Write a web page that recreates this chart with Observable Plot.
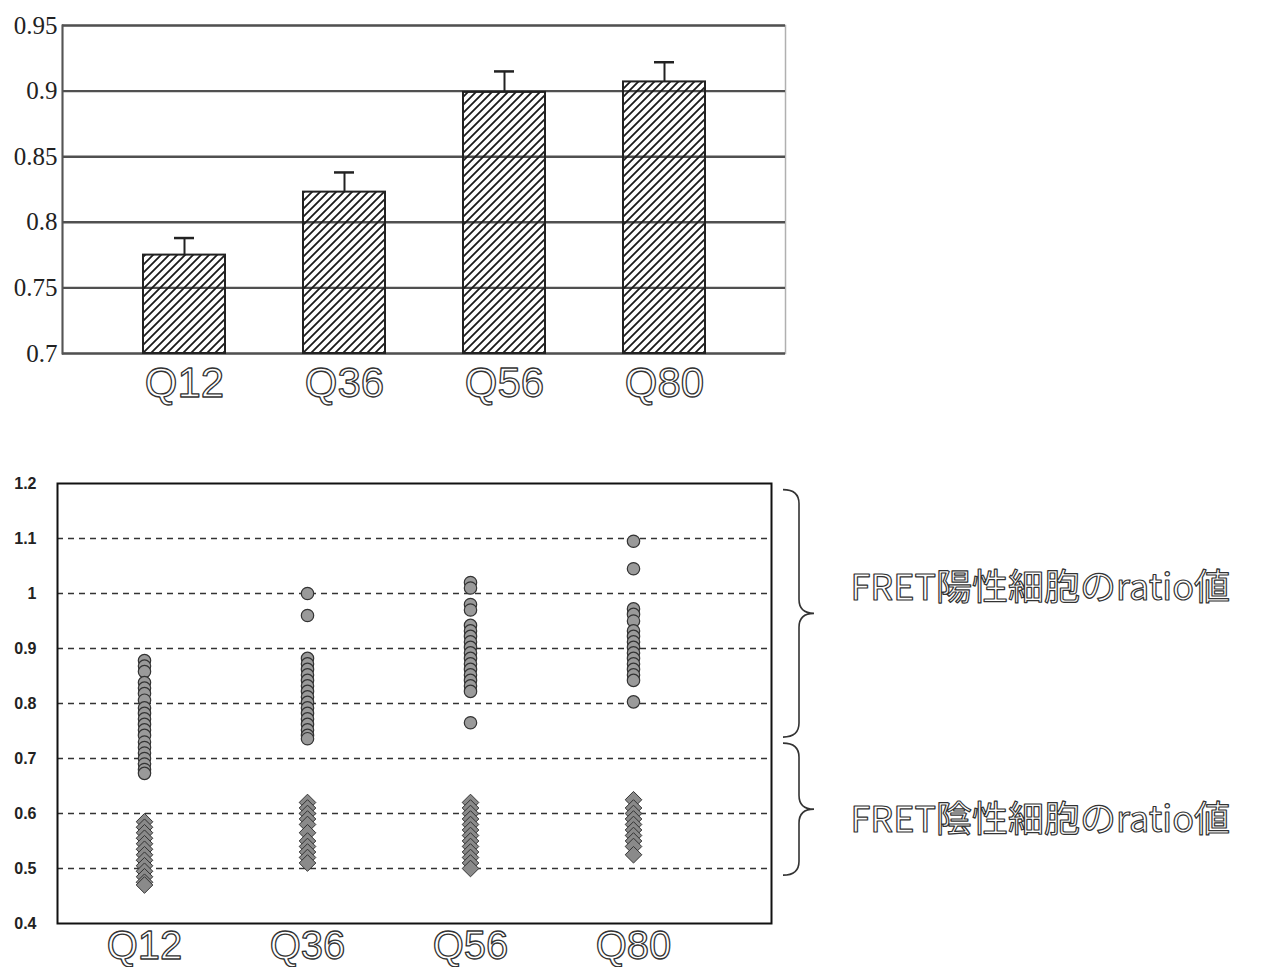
<!DOCTYPE html>
<html><head><meta charset="utf-8">
<script src="https://cdn.jsdelivr.net/npm/d3@7"></script>
<script src="https://cdn.jsdelivr.net/npm/@observablehq/plot@0.6"></script>
<style>
html,body{margin:0;padding:0;background:#fff;}
#wrap{position:relative;width:1261px;height:967px;overflow:hidden;background:#fff;}
#top{position:absolute;left:0;top:0;}
#bottom{position:absolute;left:0;top:470px;}
svg{overflow:visible;}
</style></head><body>
<svg width="0" height="0" style="position:absolute;left:0;top:0">
  <defs>
    <pattern id="hatch" patternUnits="userSpaceOnUse" width="8" height="8">
      <path d="M-2,2 L2,-2 M0,8 L8,0 M6,10 L10,6" stroke="#1a1a1a" stroke-width="1.8"/>
    </pattern>
  </defs>
</svg>
<div id="wrap"><div id="top"></div><div id="bottom"></div></div>
<script>
// ---------- data ----------
const categories = ["Q12", "Q36", "Q56", "Q80"];
const barMeans  = [0.775, 0.823, 0.899, 0.907];
const barErrors = [0.013, 0.015, 0.016, 0.015];
const topTicks = [0.7, 0.75, 0.8, 0.85, 0.9, 0.95];
const bottomTicks = [0.4, 0.5, 0.6, 0.7, 0.8, 0.9, 1, 1.1, 1.2];
const bottomGrid = [0.5, 0.6, 0.7, 0.8, 0.9, 1, 1.1];

// FRET-positive cells (circles)
const posQ12 = [0.878, 0.868, 0.858, 0.838, 0.828, 0.818, 0.806, 0.792, 0.782, 0.772, 0.762, 0.752, 0.742, 0.73, 0.72, 0.71, 0.70, 0.69, 0.68, 0.673];
const posQ36 = [1.0, 0.96, 0.882, 0.872, 0.862, 0.852, 0.842, 0.832, 0.822, 0.812, 0.802, 0.792, 0.782, 0.772, 0.762, 0.752, 0.742, 0.736];
const posQ56 = [1.02, 1.01, 0.98, 0.97, 0.942, 0.932, 0.922, 0.912, 0.902, 0.892, 0.882, 0.872, 0.862, 0.852, 0.842, 0.832, 0.822, 0.765];
const posQ80 = [1.095, 1.045, 0.972, 0.962, 0.95, 0.932, 0.922, 0.912, 0.902, 0.892, 0.882, 0.872, 0.862, 0.852, 0.842, 0.803];
// FRET-negative cells (diamonds)
const negQ12 = [0.585, 0.575, 0.565, 0.555, 0.545, 0.535, 0.525, 0.515, 0.505, 0.495, 0.485, 0.475, 0.47];
const negQ36 = [0.62, 0.61, 0.60, 0.59, 0.58, 0.565, 0.55, 0.54, 0.53, 0.52, 0.51];
const negQ56 = [0.62, 0.61, 0.60, 0.59, 0.58, 0.57, 0.56, 0.55, 0.54, 0.53, 0.52, 0.51, 0.50];
const negQ80 = [0.625, 0.61, 0.60, 0.59, 0.58, 0.57, 0.56, 0.55, 0.54, 0.525];

const braceLabels  = ["FRET陽性細胞のratio値", "FRET陰性細胞のratio値"];
const braceTops    = [1.188, 0.727];
const braceBottoms = [0.738, 0.487];

// ---------- top chart ----------
const bars = categories.map((c, i) => ({cat: c, mean: barMeans[i], hi: barMeans[i] + barErrors[i]}));
const ink = "#222";
const topChart = Plot.plot({
  width: 800, height: 410,
  marginLeft: 62, marginRight: 15, marginTop: 25, marginBottom: 57,
  style: {background: "transparent", overflow: "visible"},
  x: {domain: categories, paddingInner: 0.49, paddingOuter: 0.5, label: null},
  y: {domain: [0.7, 0.95], label: null},
  marks: [
    Plot.frame({stroke: "#b0b0b0", strokeWidth: 1.5}),
    Plot.ruleY(topTicks, {stroke: "#505050", strokeWidth: 2.4}),
    Plot.frame({anchor: "left", stroke: "#555", strokeWidth: 2}),
    Plot.barY(bars, {x: "cat", y1: 0.7, y2: "mean", fill: "url(#hatch)", stroke: ink, strokeWidth: 2}),
    Plot.ruleX(bars, {x: "cat", y1: "mean", y2: "hi", stroke: ink, strokeWidth: 2}),
    Plot.tickY(bars, {x: "cat", y: "hi", stroke: ink, strokeWidth: 2.5, insetLeft: 31, insetRight: 31}),
    Plot.axisY({ticks: topTicks, tickFormat: d => `${d}`, tickSize: 0, tickPadding: 5,
      fontSize: 25, fontFamily: "Liberation Serif", fill: ink}),
    Plot.axisX({tickSize: 0, tickPadding: 14, fontSize: 42, fontFamily: "Liberation Sans",
      fill: "#fff", textStroke: "#333", textStrokeWidth: 1.3})
  ]
});
document.getElementById("top").append(topChart);

// ---------- bottom chart ----------
const posSets = [posQ12, posQ36, posQ56, posQ80];
const negSets = [negQ12, negQ36, negQ56, negQ80];
const posDots = categories.flatMap((c, i) => posSets[i].map(v => ({cat: c, v})));
const negDots = categories.flatMap((c, i) => negSets[i].map(v => ({cat: c, v})));
const braces = braceLabels.map((label, i) => ({label, top: braceTops[i], bottom: braceBottoms[i], mid: (braceTops[i] + braceBottoms[i]) / 2}));

function braceMark(index, scales, values, dims) {
  const ns = "http://www.w3.org/2000/svg";
  const g = document.createElementNS(ns, "g");
  const xr = dims.width - dims.marginRight;
  braces.forEach(b => {
    const y1 = scales.y(b.top), y2 = scales.y(b.bottom), ym = (y1 + y2) / 2;
    const x0 = xr + 12, xm = xr + 28, xt = xr + 43, r = 14;
    const p = document.createElementNS(ns, "path");
    p.setAttribute("d",
      `M${x0},${y1} Q${xm},${y1} ${xm},${y1 + r} L${xm},${ym - r} Q${xm},${ym} ${xt},${ym}` +
      ` Q${xm},${ym} ${xm},${ym + r} L${xm},${y2 - r} Q${xm},${y2} ${x0},${y2}`);
    p.setAttribute("fill", "none");
    p.setAttribute("stroke", "#333");
    p.setAttribute("stroke-width", "1.6");
    g.append(p);
  });
  return g;
}

const textStyle = {fontSize: 36, fontFamily: "Noto Sans CJK JP", fill: "#fff", stroke: "#333", strokeWidth: 1.2,
  frameAnchor: "right", textAnchor: "start", dx: 79};

const bottomChart = Plot.plot({
  width: 1261, height: 497,
  marginLeft: 57, marginRight: 490, marginTop: 13, marginBottom: 44,
  style: {background: "transparent", overflow: "visible"},
  x: {type: "point", domain: categories, range: [144, 633], padding: 0, label: null},
  y: {domain: [0.4, 1.2], label: null},
  marks: [
    Plot.ruleY(bottomGrid, {stroke: "#333", strokeWidth: 1.5, strokeDasharray: "6,5"}),
    Plot.dot(negDots, {x: "cat", y: "v", symbol: "diamond2", r: 7.5, fill: "#8a8a8a", stroke: "#333", strokeWidth: 1}),
    Plot.dot(posDots, {x: "cat", y: "v", r: 6.2, fill: "#9a9a9a", stroke: "#333", strokeWidth: 1.2}),
    Plot.frame({stroke: "#111", strokeWidth: 2}),
    Plot.axisY({ticks: bottomTicks, tickFormat: d => `${d}`, tickSize: 0, tickPadding: 21,
      fontSize: 16, fontWeight: "bold", fontFamily: "Liberation Sans", fill: ink}),
    Plot.axisX({tickSize: 0, tickPadding: 7, fontSize: 40, fontFamily: "Liberation Sans",
      fill: "#fff", textStroke: "#333", textStrokeWidth: 1.3}),
    braceMark,
    Plot.text(braces.slice(0, 1), {...textStyle, y: "mid", text: "label", dy: -25}),
    Plot.text(braces.slice(1, 2), {...textStyle, y: "mid", text: "label", dy: 11})
  ]
});
document.getElementById("bottom").append(bottomChart);

// outline-style lettering: draw the stroke on top of the white fill
for (const svg of [topChart, bottomChart]) {
  svg.querySelectorAll("text").forEach(t => {
    const s = t.getAttribute("stroke") || (t.parentNode && t.parentNode.getAttribute && t.parentNode.getAttribute("stroke"));
    if (s && s !== "none") t.style.paintOrder = "normal";
  });
  svg.querySelectorAll("g[stroke]").forEach(g => {
    if (g.querySelector("text")) g.style.paintOrder = "normal";
  });
}
</script>
</body></html>
